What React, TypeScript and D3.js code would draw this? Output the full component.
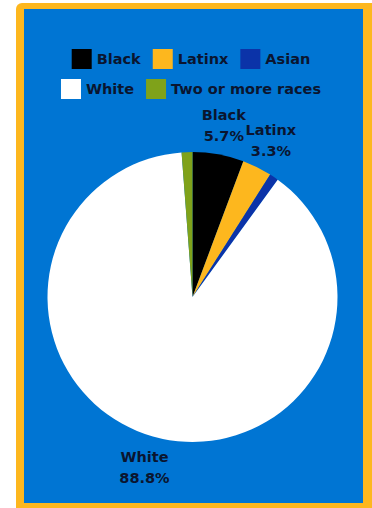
import React, { useEffect, useRef } from "react";
import * as d3 from "d3";

const categories = ["Black", "Latinx", "Asian", "White", "Two or more races"];
const values = [5.7, 3.3, 1.0, 88.8, 1.2];
const colors = ["#000000", "#FDB71E", "#0B33A8", "#FFFFFF", "#7FA21A"];
const labeled = ["Black", "Latinx", "White"];
const legendRows = [["Black", "Latinx", "Asian"], ["White", "Two or more races"]];

const W = 372;
const H = 508;
const FONT = "'DejaVu Sans', sans-serif";
const TEXT = "#0a1530";

export default function App() {
  const ref = useRef<SVGSVGElement>(null);

  useEffect(() => {
    const svg = d3.select(ref.current);
    svg.selectAll("*").remove();

    // frame
    svg.append("rect").attr("x", 16).attr("y", 3).attr("width", 362).attr("height", 515)
      .attr("rx", 6).attr("fill", "#FDB71E");
    svg.append("rect").attr("x", 24).attr("y", 9).attr("width", 339).attr("height", 494)
      .attr("fill", "#0075D3");

    const color = d3.scaleOrdinal<string, string>().domain(categories).range(colors);

    // legend
    const sq = 20, gapText = 5, gapItem = 12;
    const rowY = [49, 79];
    const cx0 = 191;
    legendRows.forEach((row, ri) => {
      const g = svg.append("g");
      let x = 0;
      row.forEach((name) => {
        g.append("rect").attr("x", x).attr("y", 0).attr("width", sq).attr("height", sq)
          .attr("fill", color(name));
        const t = g.append("text").attr("x", x + sq + gapText).attr("y", sq / 2)
          .attr("dy", "0.36em").attr("font-family", FONT).attr("font-weight", "bold")
          .attr("font-size", 14.5).attr("fill", TEXT).text(name);
        const w = (t.node() as SVGTextElement).getComputedTextLength();
        x += sq + gapText + w + gapItem;
      });
      const total = x - gapItem;
      g.attr("transform", `translate(${cx0 - total / 2},${rowY[ri]})`);
    });

    // pie
    const cx = 192.5, cy = 297, r = 145;
    const pie = d3.pie<number>().sort(null).value((d) => d);
    const arcs = pie(values);
    const arc = d3.arc<d3.PieArcDatum<number>>().innerRadius(0).outerRadius(r);
    const labelArc = d3.arc<d3.PieArcDatum<number>>().innerRadius(176).outerRadius(176);
    const g = svg.append("g").attr("transform", `translate(${cx},${cy})`);
    g.selectAll("path").data(arcs).join("path")
      .attr("d", arc as any)
      .attr("fill", (_d, i) => color(categories[i]));

    arcs.forEach((a, i) => {
      if (!labeled.includes(categories[i])) return;
      const [lx, ly] = labelArc.centroid(a);
      const t = g.append("text").attr("text-anchor", "middle")
        .attr("font-family", FONT).attr("font-weight", "bold").attr("font-size", 14.5)
        .attr("fill", TEXT);
      t.append("tspan").attr("x", lx).attr("y", ly - 4).text(categories[i]);
      t.append("tspan").attr("x", lx).attr("y", ly + 17).text(values[i].toFixed(1) + "%");
    });
  }, []);

  return (
    <div style={{ position: "absolute", left: 0, top: 0, width: W, height: H, background: "#fff" }}>
      <svg ref={ref} width={W} height={H} style={{ display: "block" }} />
    </div>
  );
}
